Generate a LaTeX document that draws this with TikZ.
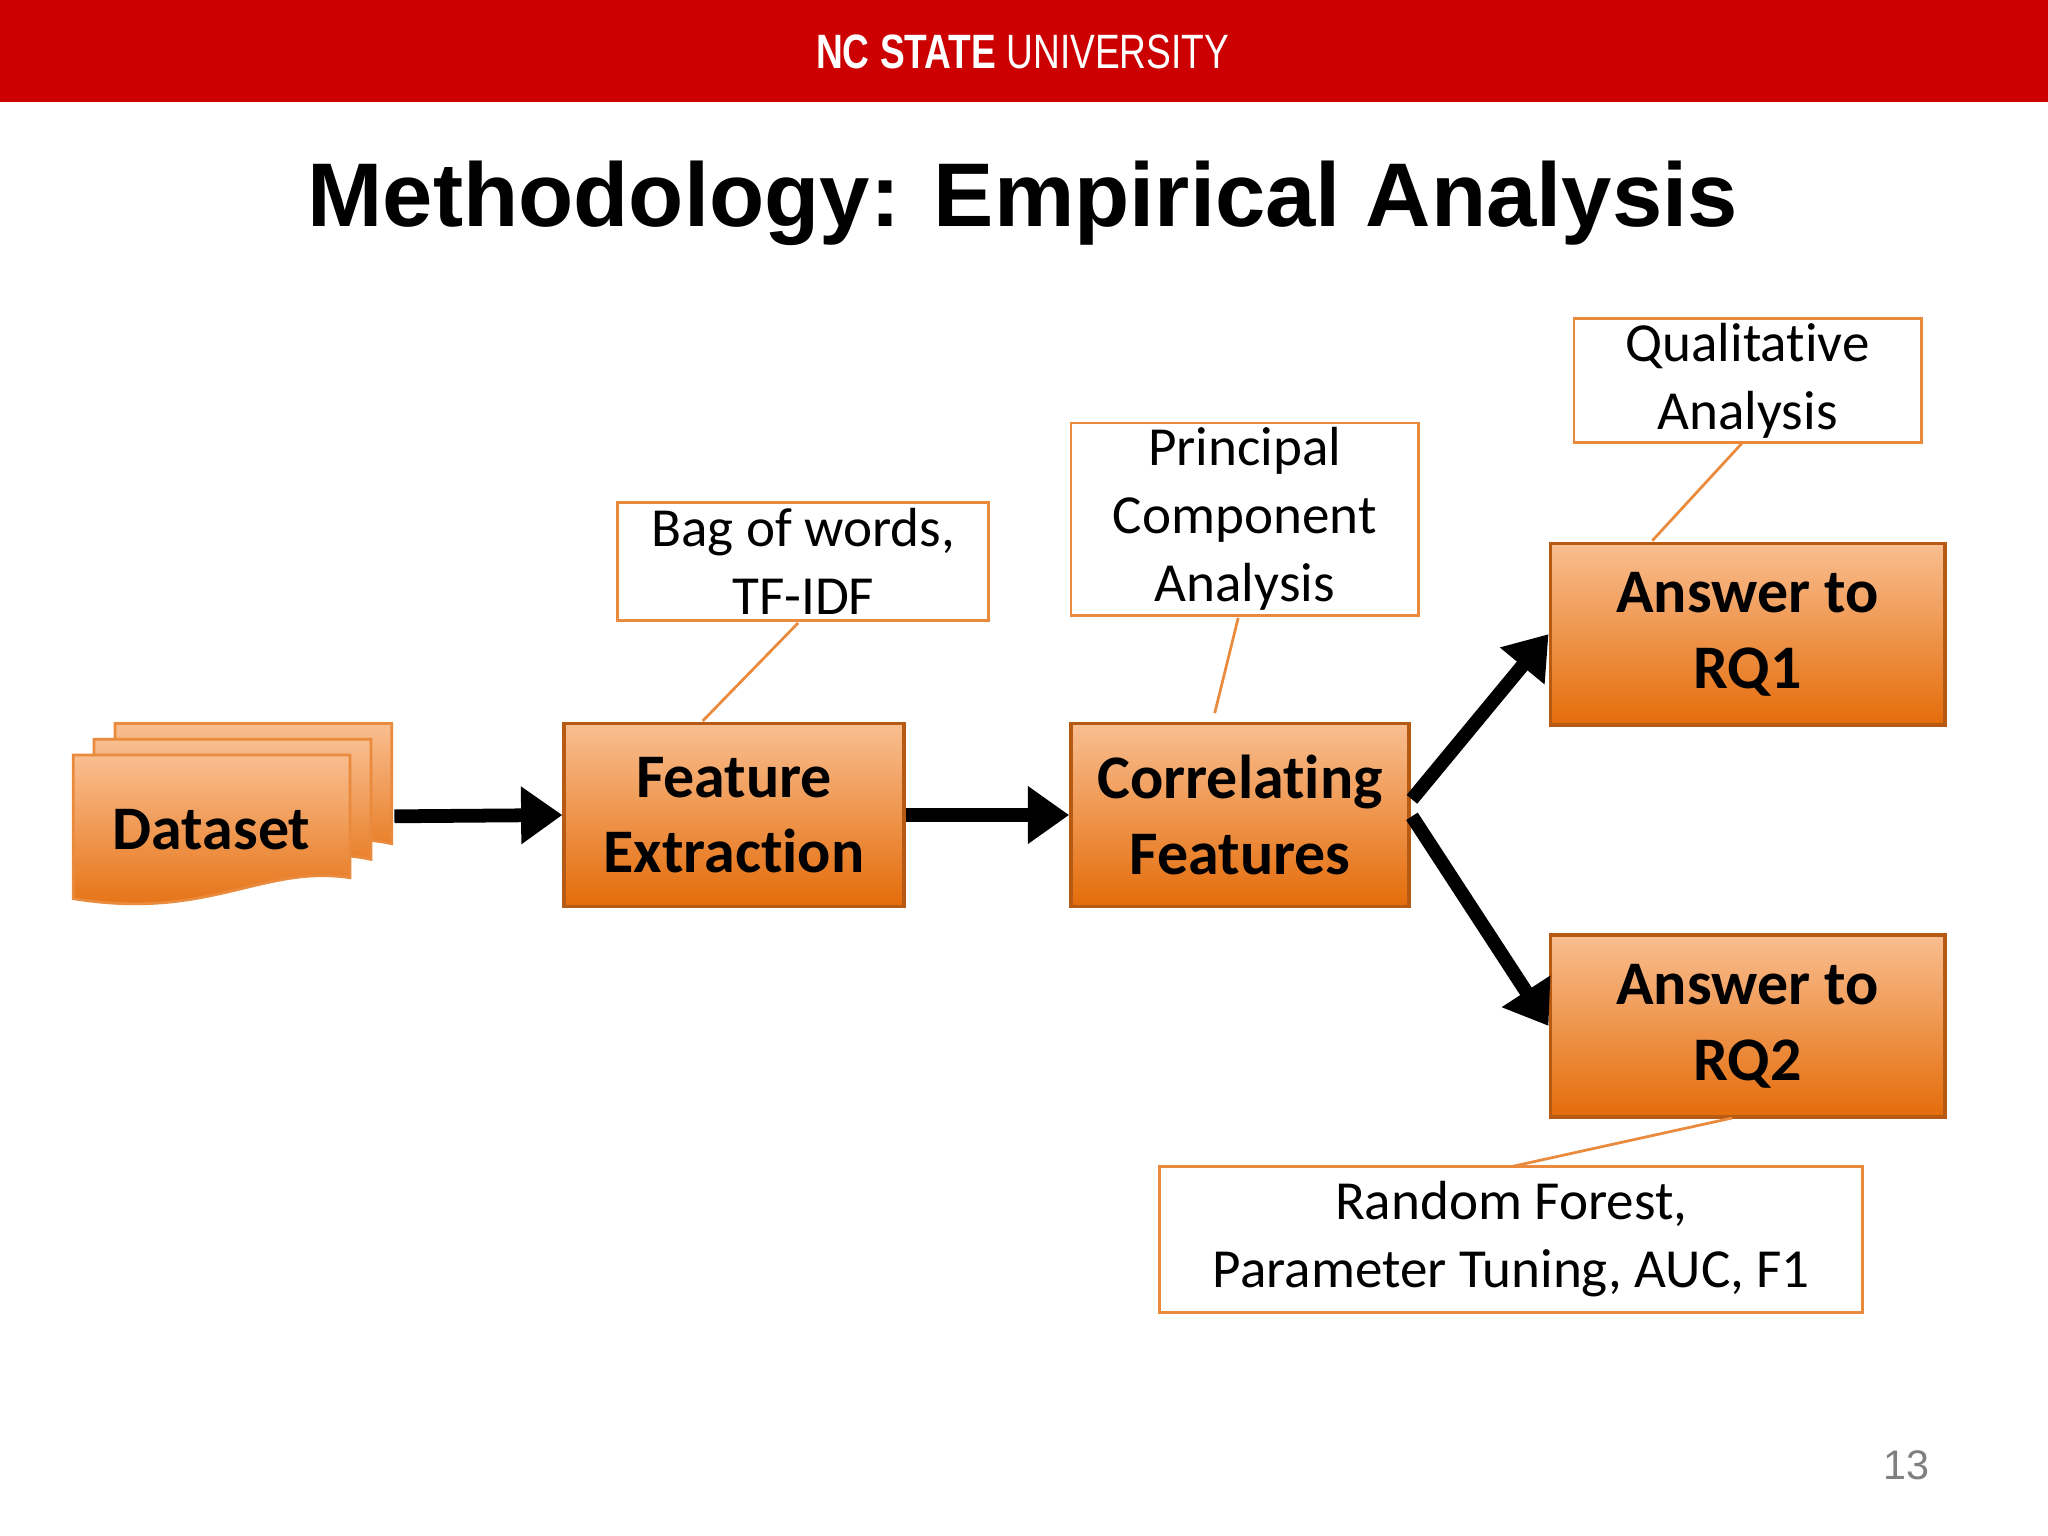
\documentclass[tikz,border=0pt]{standalone}
\usepackage{fontspec}
\setmainfont{Carlito}[Ligatures=NoCommon]
\newfontfamily\titlefont{Liberation Sans}
\usetikzlibrary{arrows.meta}
\definecolor{ncred}{HTML}{CC0000}
\definecolor{otop}{HTML}{F9BE90}
\definecolor{obot}{HTML}{E46C0A}
\definecolor{oline}{HTML}{B65A14}
\definecolor{cline}{HTML}{E98A3C}
\tikzset{
 obox/.style={draw=oline,line width=0.8pt,top color=otop,bottom color=obot,align=center,font=\fontsize{13.5}{16.5}\selectfont\bfseries},
 cbox/.style={draw=cline,line width=0.6pt,fill=white,align=center,inner sep=1pt,font=\fontsize{12}{14.8}\selectfont},
 conn/.style={draw=cline,line width=0.6pt},
 bigarrow/.style={line width=3pt,-{Triangle[length=9pt,width=12pt]}}
}
\begin{document}
\begin{tikzpicture}[x=1cm,y=1cm]
\useasboundingbox (0,0) rectangle (15.68,-11.76);
\fill[ncred] (0,0) rectangle (15.68,-0.78);
\node[text=white,font=\titlefont\fontsize{10.5}{12}\selectfont] (banner) at (7.83,-0.40) {\scalebox{0.77}[1]{\textbf{NC STATE} UNIVERSITY}};
\node[font=\titlefont\bfseries\fontsize{19.7}{24}\selectfont] (title) at (7.83,-1.56) {Methodology: Empirical Analysis};
% dataset stack
\foreach \dx/\dy in {0.32/-0.24,0.16/-0.12}{
 \shade[top color=otop,bottom color=obot,draw=cline,line width=0.6pt]
 (0.56+\dx,-5.78-\dy) -- (2.68+\dx,-5.78-\dy) -- (2.68+\dx,-6.70-\dy)
 .. controls (2.0+\dx,-6.55-\dy) and (1.6+\dx,-7.0-\dy) .. (0.56+\dx,-6.85-\dy) -- cycle;}
\shade[top color=otop,bottom color=obot,draw=cline,line width=0.6pt]
 (0.56,-5.78) -- (2.68,-5.78) -- (2.68,-6.72)
 .. controls (2.0,-6.62) and (1.6,-7.05) .. (0.56,-6.88) -- cycle;
\node[font=\fontsize{13.5}{16}\selectfont\bfseries] (ds) at (1.62,-6.35) {Dataset};
\coordinate (dsr) at (3.02,-6.25);
\node[obox,minimum width=2.6cm,minimum height=1.4cm] (fe) at (5.62,-6.24) {Feature\\Extraction};
\node[obox,minimum width=2.59cm,minimum height=1.4cm] (cf) at (9.495,-6.24) {Correlating\\Features};
\node[obox,minimum width=3.02cm,minimum height=1.39cm] (rq1) at (13.38,-4.855) {Answer to\\RQ1};
\node[obox,minimum width=3.02cm,minimum height=1.39cm] (rq2) at (13.38,-7.855) {Answer to\\RQ2};
\node[cbox,minimum width=2.84cm,minimum height=0.9cm] (bow) at (6.15,-4.30) {Bag of words,\\TF-IDF};
\node[cbox,minimum width=2.66cm,minimum height=1.45cm] (pca) at (9.53,-3.975) {Principal\\Component\\Analysis};
\node[cbox,minimum width=2.66cm,minimum height=0.91cm] (qa) at (13.38,-2.915) {Qualitat\kern0pt ive\\Analysis};
\node[cbox,minimum width=5.38cm,minimum height=1.12cm] (rf) at (11.57,-9.49) {Random Forest,\\Parameter Tuning, AUC, F1};
\draw[conn] (6.11,-4.77) -- (5.38,-5.52);
\draw[conn] (9.48,-4.73) -- (9.30,-5.46);
\draw[conn] (13.34,-3.39) -- (12.65,-4.14);
\draw[conn] (13.26,-8.56) -- (11.58,-8.93);
\draw[bigarrow] (dsr) -- (fe.west);
\draw[bigarrow] (fe.east) -- (cf.west);
\draw[bigarrow] (10.81,-6.12) -- (rq1.west);
\draw[bigarrow] (10.81,-6.25) -- (rq2.west);
\node[text=gray,font=\titlefont\fontsize{9}{10}\selectfont] (pg) at (14.60,-11.22) {13};
\end{tikzpicture}
\end{document}
